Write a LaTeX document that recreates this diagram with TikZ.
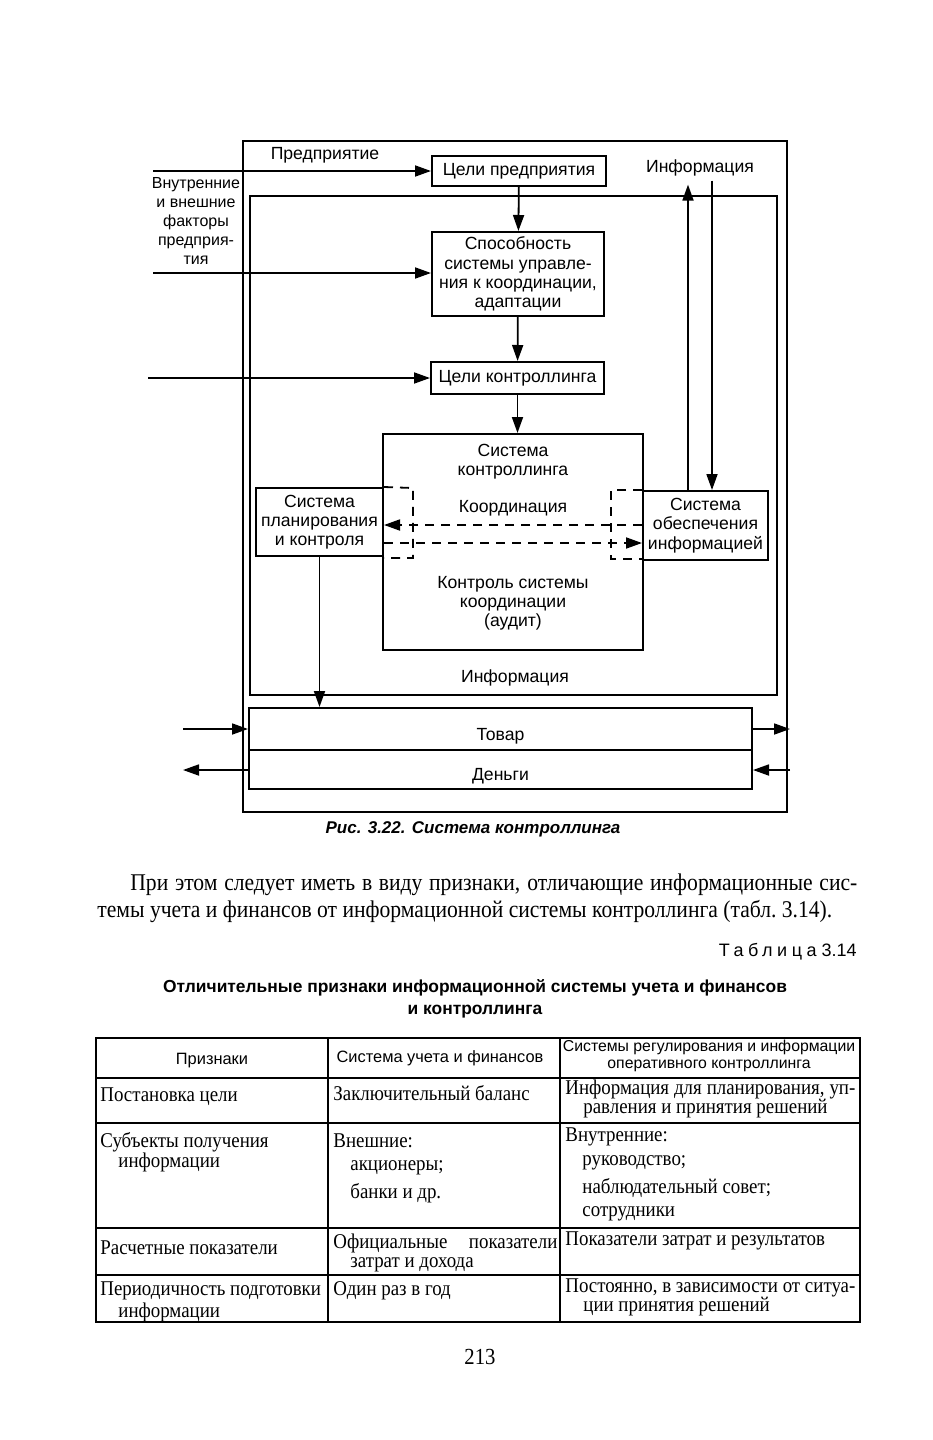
\documentclass[tikz,border=0pt]{standalone}
\usepackage{fontspec}
\setmainfont{Liberation Serif}
\setsansfont{Liberation Sans}
\newfontfamily\bodyserif[FakeStretch=0.9]{Liberation Serif}
\usetikzlibrary{arrows.meta}
\usetikzlibrary{positioning}
\usetikzlibrary{calc}
\tikzset{
  frame/.style = {draw=black, line width=1pt, inner sep=0pt},
  blockbox/.style = {draw=black, line width=1pt, align=center, inner sep=0pt,
    font=\sffamily\fontsize{8.8}{9.6}\selectfont},
  sflabel/.style = {align=center, inner sep=0pt,
    font=\sffamily\fontsize{8.8}{9.6}\selectfont},
  flow/.style = {line width=0.9pt, -{Triangle[length=8pt,width=5.5pt]}},
  dashflow/.style = {flow, dash pattern=on 4.5pt off 3.5pt},
  bracket/.style = {line width=0.9pt, dash pattern=on 4.5pt off 3.5pt},
  lowtext/.style = {text height=11pt, text depth=0pt},
  grid/.style = {line width=0.8pt},
  cell/.style = {anchor=west, inner sep=0pt, font=\bodyserif\fontsize{10.5}{10.5}\selectfont},
  headcell/.style = {align=center, inner sep=0pt,
    font=\sffamily\fontsize{8.2}{8.4}\selectfont}
}

\begin{document}
\begin{tikzpicture}[x=0.5pt, y=-0.5pt]
  \useasboundingbox (0,0) rectangle (932,1440);
  % frames of the firm
  \node[frame, minimum width=272pt, minimum height=335.5pt] (firm) at (515,476.5) {};
  \node[frame, minimum width=263.5pt, minimum height=249.5pt] (core) at (513.5,445.5) {};
  \node[sflabel] (firmlbl) at (325,155) {Предприятие};
  \node[sflabel, font=\sffamily\fontsize{8}{9.4}\selectfont] (factors) at (196,221)
    {Внутренние\\и внешние\\факторы\\предприя-\\тия};

  % chain of goals
  \node[blockbox, minimum width=87pt, minimum height=15pt] (goal) at (519,171) {Цели предприятия};
  \node[blockbox, minimum width=86pt, minimum height=42pt] (abil) at (518,274)
    {Способность\\системы управле-\\ния к координации,\\адаптации};
  \node[blockbox, minimum width=86.5pt, minimum height=16pt] (cgoal) at (517.5,378) {Цели контроллинга};

  % controlling system
  \node[blockbox, minimum width=130pt, minimum height=108pt] (csys) at (513,542) {};
  \node[sflabel] (csystitle) at (513,462) {Система\\контроллинга};
  \node[sflabel] (coord) at (513,508) {Координация};
  \node[sflabel] (audit) at (513,603) {Контроль системы\\координации\\(аудит)};
  \node[blockbox, minimum width=63.5pt, minimum height=34pt] (plan) at (319.5,522)
    {Система\\планирования\\и контроля};
  \node[blockbox, minimum width=62.5pt, minimum height=34.5pt] (info) at (705.5,525.5)
    {Система\\обеспечения\\информацией};
  \node[sflabel] (infolbl) at (700,168) {Информация};
  \node[sflabel] (infolow) at (515,678) {Информация};

  % goods and money
  \node[blockbox, lowtext, minimum width=251.5pt, minimum height=21pt] (goods) at (500.5,729) {Товар};
  \node[blockbox, lowtext, minimum width=251.5pt, minimum height=19.5pt] (money) at (500.5,769.5) {Деньги};

  % free ends
  \coordinate (in1) at (153,171);
  \coordinate (in2) at (153,273);
  \coordinate (in3) at (148,378);
  \coordinate (upx) at (688,0);
  \coordinate (downx) at (712,0);
  \coordinate (dashup) at (0,525);
  \coordinate (dashlow) at (0,543);
  \coordinate (goodsin) at (183,729);
  \coordinate (goodsout) at (790,729);
  \coordinate (moneyout) at (183,770);
  \coordinate (moneyin) at (790,770);

  \draw[flow] (in1) -- (goal.west);
  \draw[flow] (in2) -- (in2 -| abil.west);
  \draw[flow] (in3) -- (cgoal.west);
  \draw[flow] (goal) -- (abil);
  \draw[flow] (abil) -- (cgoal);
  \draw[flow] (cgoal) -- (cgoal |- csys.north);
  \draw[flow] (info.north -| upx) -- ([yshift=-4pt]infolbl.south -| upx);
  \draw[flow] ([yshift=-2pt]infolbl.south -| downx) -- (info.north -| downx);

  % dashed links
  \draw[bracket] (plan.north east) -- (413,488) -- (413,558) -- (383,558);
  \draw[bracket] (info.north west) -- (611,490) -- (611,559) -- (643,559);
  \draw[dashflow] (info.west |- dashup) -- (plan.east |- dashup);
  \draw[dashflow] (plan.east |- dashlow) -- (info.west |- dashlow);

  \draw[flow] (plan.south) -- (plan.south |- goods.north);
  \draw[flow] (goodsin) -- (goodsin -| goods.west);
  \draw[flow] (goodsout -| goods.east) -- (goodsout);
  \draw[flow] (moneyout -| money.west) -- (moneyout);
  \draw[flow] (moneyin) -- (moneyin -| money.east);

  \node[font=\sffamily\bfseries\itshape\fontsize{8.5}{10}\selectfont, inner sep=0pt] (caption) at (473,829)
    {Рис. 3.22. Система контроллинга};

  % text of the page
  \node[anchor=west, inner sep=0pt, font=\bodyserif\fontsize{12}{13}\selectfont] (para1) at (130,885)
    {\makebox[363.5pt][s]{При этом следует иметь в виду признаки, отличающие информационные сис-}};
  \node[anchor=west, inner sep=0pt, font=\bodyserif\fontsize{12}{13}\selectfont] (para2) at (97,911)
    {темы учета и финансов от информационной системы контроллинга (табл.~3.14).};
  \node[anchor=east, inner sep=0pt, font=\sffamily\fontsize{9}{10}\selectfont] (tabno) at (857,952)
    {{\addfontfeature{LetterSpace=25}Таблица}~3.14};
  \node[align=center, inner sep=0pt, font=\sffamily\bfseries\fontsize{8.7}{11}\selectfont] (tabtitle) at (475,999)
    {Отличительные признаки информационной системы учета и финансов\\и контроллинга};

  % table
  \draw[grid] (96,1038) rectangle (860,1322);
  \draw[grid] (328,1038) -- (328,1322);
  \draw[grid] (560,1038) -- (560,1322);
  \draw[grid] (96,1078) -- (860,1078);
  \draw[grid] (96,1123) -- (860,1123);
  \draw[grid] (96,1228) -- (860,1228);
  \draw[grid] (96,1275) -- (860,1275);

  \node[headcell] (h1) at (212,1061) {Признаки};
  \node[headcell] (h2) at (440,1058) {Система учета и финансов};
  \node[headcell, font=\sffamily\fontsize{7.9}{8.4}\selectfont] (h3) at (709,1056)
    {Системы регулирования и информации\\оперативного контроллинга};

  \node[cell] (r1a) at (100,1097) {Постановка цели};
  \node[cell] (r1b) at (333,1093) {Заключительный баланс};
  \node[cell] (r1c) at (565,1089) {\makebox[145pt][s]{Информация для планирования, уп-}};
  \node[cell] (r1d) at (583,1109) {равления и принятия решений};

  \node[cell] (r2a) at (100,1142) {Субъекты получения};
  \node[cell] (r2b) at (118,1162) {информации};
  \node[cell] (r2c) at (333,1141) {Внешние:};
  \node[cell] (r2d) at (350,1168) {акционеры;};
  \node[cell] (r2e) at (350,1193) {банки и др.};
  \node[cell] (r2f) at (565,1137) {Внутренние:};
  \node[cell] (r2g) at (582,1163) {руководство;};
  \node[cell] (r2h) at (582,1188) {наблюдательный совет;};
  \node[cell] (r2i) at (582,1214) {сотрудники};

  \node[cell] (r3a) at (100,1248) {Расчетные показатели};
  \node[cell] (r3b) at (333,1243) {\makebox[112pt][s]{Официальные показатели}};
  \node[cell] (r3c) at (350,1265) {затрат и дохода};
  \node[cell] (r3d) at (565,1241) {Показатели затрат и результатов};

  \node[cell] (r4a) at (100,1291) {Периодичность подготовки};
  \node[cell] (r4b) at (118,1312) {информации};
  \node[cell] (r4c) at (333,1291) {Один раз в год};
  \node[cell] (r4d) at (565,1288) {\makebox[145pt][s]{Постоянно, в зависимости от ситуа-}};
  \node[cell] (r4e) at (583,1307) {ции принятия решений};

  \node[inner sep=0pt, font=\bodyserif\fontsize{11.5}{12}\selectfont] (pagenum) at (480,1357) {213};
\end{tikzpicture}
\end{document}
